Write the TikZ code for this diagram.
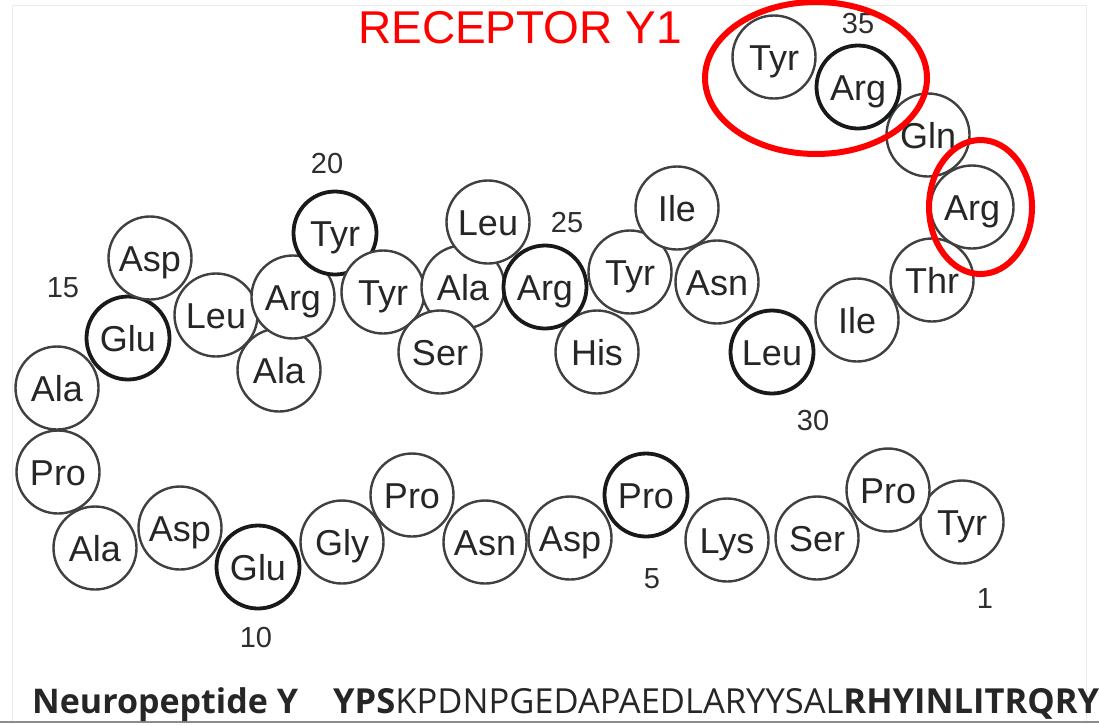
\documentclass[tikz,border=0pt]{standalone}
\usepackage{fontspec}
\setmainfont{Liberation Sans}
\newfontfamily\seqfont{Open Sans}
\begin{document}
\begin{tikzpicture}[x=1pt,y=-1pt,
  res/.style={circle, draw=black!75, line width=2.4pt, fill=white, minimum size=83pt, inner sep=0pt,
    text=black!85, font=\fontsize{36}{36}\selectfont, text height=26pt, text depth=0pt},
  resb/.style={res, draw=black!90, line width=3.8pt},
  num/.style={text=black!82, font=\fontsize{29}{29}\selectfont, inner sep=0pt, text height=21pt, text depth=0pt},
  redring/.style={draw=red, line width=6pt},
  seqtxt/.style={inner sep=0pt, anchor=base west, text=black!85, font=\seqfont\fontsize{34.5}{34.5}\selectfont}]
\useasboundingbox (0,0) rectangle (1099,724);
\clip (0,0) rectangle (1099,724);
\fill[white] (0,0) rectangle (1099,724);
\draw[black!8, line width=1pt] (12,5) rectangle (1086,721);
\draw[black!45, line width=1.5pt] (0,722) -- (1099,722);
% residues
\node[res]  (r1)  at (962,522) {Tyr};
\node[res]  (r2)  at (888,490) {Pro};
\node[res]  (r3)  at (817,538) {Ser};
\node[res]  (r4)  at (727,540) {Lys};
\node[resb] (r5)  at (646,495) {Pro};
\node[res]  (r6)  at (570,538) {Asp};
\node[res]  (r7)  at (485,542) {Asn};
\node[res]  (r8)  at (412,495) {Pro};
\node[res]  (r9)  at (342,542) {Gly};
\node[resb] (r10) at (258,567) {Glu};
\node[res]  (r11) at (180,528) {Asp};
\node[res]  (r12) at (95,548)  {Ala};
\node[res]  (r13) at (58,472)  {Pro};
\node[res]  (r14) at (57,388)  {Ala};
\node[resb] (r15) at (128,338) {Glu};
\node[res]  (r16) at (150,258) {Asp};
\node[res]  (r17) at (216,315) {Leu};
\node[res]  (r18) at (279,370) {Ala};
\node[res]  (r19) at (293,297) {Arg};
\node[resb] (r20) at (335,233) {Tyr};
\node[res]  (r21) at (383,292) {Tyr};
\node[res]  (r23) at (463,287) {Ala};
\node[res]  (r22) at (440,352) {Ser};
\node[res]  (r24) at (488,222) {Leu};
\node[res]  (r26) at (597,352) {His};
\node[resb] (r25) at (545,287) {Arg};
\node[res]  (r27) at (630,272) {Tyr};
\node[res]  (r28) at (677,208) {Ile};
\node[res]  (r29) at (717,282) {Asn};
\node[resb] (r30) at (772,352) {Leu};
\node[res]  (r31) at (857,320) {Ile};
\node[res]  (r32) at (932,280) {Thr};
\node[res]  (r33) at (972,207) {Arg};
\node[res]  (r34) at (928,135) {Gln};
\node[res]  (r36) at (774,57)  {Tyr};
\node[resb] (r35) at (858,87)  {Arg};
% numbers
\node[num] (n1)  at (985,598) {1};
\node[num] (n5)  at (652,578) {5};
\node[num] (n10) at (256,637) {10};
\node[num] (n15) at (63,287)  {15};
\node[num] (n20) at (327,163) {20};
\node[num] (n25) at (567,222) {25};
\node[num] (n30) at (813,420) {30};
\node[num] (n35) at (858,23)  {35};
% red highlights
\draw[redring] (816,78) ellipse [x radius=111, y radius=76];
\draw[redring] (980.5,207) ellipse [x radius=51.5, y radius=67];
\node[inner sep=0pt, anchor=base, text=red, font=\fontsize{46}{46}\selectfont] (title) at (520,43) {RECEPTOR Y1};
% sequence
\node[seqtxt, font=\seqfont\bfseries\fontsize{34}{34}\selectfont] (npy) at (32,713) {Neuropeptide Y};
\node[seqtxt] (seq) at (333,713) {\textbf{YPS}KPDNPGEDAPAEDLARYYSAL\textbf{RHYINLITRQRY}};
\end{tikzpicture}
\end{document}
